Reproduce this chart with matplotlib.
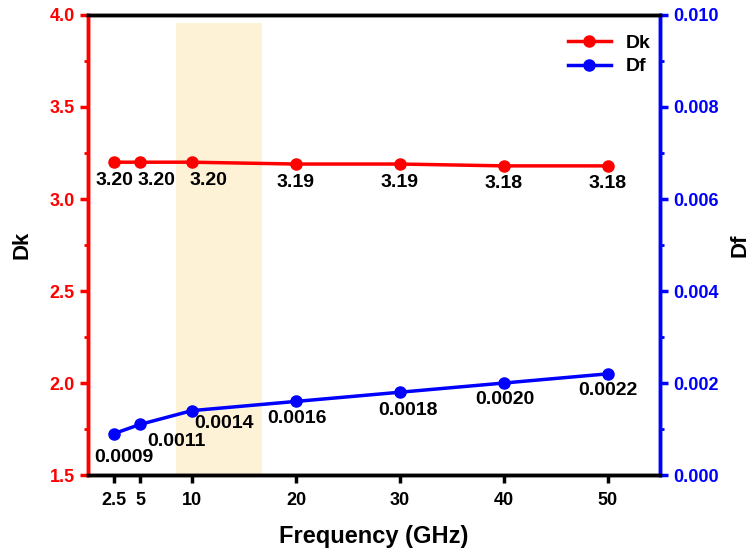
import numpy as np
import matplotlib.pyplot as plt

plt.rcParams['font.family'] = ['Liberation Sans', 'DejaVu Sans']
plt.rcParams['font.weight'] = 'bold'

freq = [2.5, 5, 10, 20, 30, 40, 50]
dk = [3.20, 3.20, 3.20, 3.19, 3.19, 3.18, 3.18]
df = [0.0009, 0.0011, 0.0014, 0.0016, 0.0018, 0.0020, 0.0022]
dk_labels = ["3.20", "3.20", "3.20", "3.19", "3.19", "3.18", "3.18"]
df_labels = ["0.0009", "0.0011", "0.0014", "0.0016", "0.0018", "0.0020", "0.0022"]
band = (8.5, 16.7)

# label offsets in points
dk_off = [(0, -13), (12, -13), (12, -13), (0, -13), (0, -13), (0, -13), (0, -13)]
df_off = [(7, -17), (26, -12), (23, -9), (1, -12), (6, -13), (1, -12), (0, -12)]

fig = plt.figure(figsize=(7.54, 5.55), dpi=100)
ax = fig.add_axes([0.1167, 0.1441, 0.7586, 0.8289])
ax2 = ax.twinx()

ax.fill_between(band, 1.5, 3.957, color="#fdf1d6", lw=0, zorder=0)

l1, = ax.plot(freq, dk, color="red", lw=2.5, marker="o", ms=8, label="Dk")
l2, = ax2.plot(freq, df, color="blue", lw=2.5, marker="o", ms=8, label="Df")

for x, y, t, o in zip(freq, dk, dk_labels, dk_off):
    ax.annotate(t, (x, y), xytext=o, textcoords="offset points",
                ha="center", va="center", fontsize=14, fontweight="bold")
for x, y, t, o in zip(freq, df, df_labels, df_off):
    ax2.annotate(t, (x, y), xytext=o, textcoords="offset points",
                 ha="center", va="center", fontsize=14, fontweight="bold")

ax.set_xlim(0, 55)
ax.set_ylim(1.5, 4.0)
ax2.set_ylim(0, 0.010)
ax.set_xticks(freq)
ax.set_xticklabels(["2.5", "5", "10", "20", "30", "40", "50"])
ax.set_yticks([1.5, 2.0, 2.5, 3.0, 3.5, 4.0])
ax.set_yticks(np.arange(1.75, 4.0, 0.5), minor=True)
ax2.set_yticks([0, 0.002, 0.004, 0.006, 0.008, 0.010])
ax2.set_yticklabels(["0.000", "0.002", "0.004", "0.006", "0.008", "0.010"])
ax2.set_yticks(np.arange(0.001, 0.010, 0.002), minor=True)

for a in (ax, ax2):
    for s in a.spines.values():
        s.set_linewidth(2.5)
    a.spines["left"].set_color("red")
    a.spines["right"].set_color("blue")
    a.spines["top"].set_color("black")
    a.spines["bottom"].set_color("black")

ax.tick_params(axis="x", direction="out", length=6, width=2.5, labelsize=13, pad=6)
ax.tick_params(axis="y", which="major", direction="out", length=6, width=2.5,
               colors="red", labelsize=13)
ax.tick_params(axis="y", which="minor", direction="out", length=3, width=2, colors="red")
ax2.tick_params(axis="y", which="major", direction="out", length=6, width=2.5,
                colors="blue", labelsize=13)
ax2.tick_params(axis="y", which="minor", direction="out", length=3, width=2, colors="blue")
for lab in ax.get_xticklabels() + ax.get_yticklabels() + ax2.get_yticklabels():
    lab.set_fontweight("bold")

ax.set_xlabel("Frequency (GHz)", fontsize=17, fontweight="bold", labelpad=12)
ax.set_ylabel("Dk", fontsize=16, fontweight="bold", labelpad=12)
ax2.set_ylabel("Df", fontsize=16, fontweight="bold", labelpad=8)

ax.legend(handles=[l1, l2], loc="upper right", frameon=False, fontsize=14,
          handlelength=2.2, borderaxespad=0.6, labelspacing=0.3,
          bbox_to_anchor=(1.018, 1.0))

fig.savefig("out.png", dpi=100)
